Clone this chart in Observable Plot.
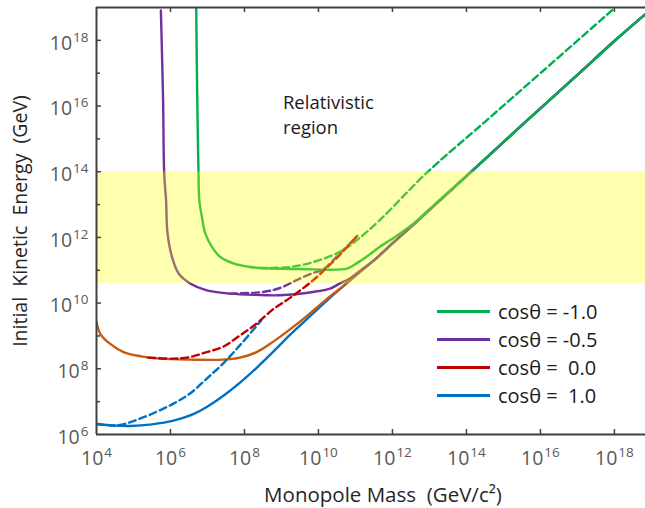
<!DOCTYPE html>
<html><head><meta charset="utf-8">
<script src="https://cdn.jsdelivr.net/npm/d3@7"></script>
<script src="https://cdn.jsdelivr.net/npm/@observablehq/plot@0.6"></script>
<style>
html,body{margin:0;padding:0;background:#fff;}
#wrap{position:relative;width:645px;height:508px;overflow:hidden;}
#legend{position:absolute;left:437px;top:297px;font-family:"Open Sans",sans-serif;font-size:20px;color:#1a1a1a;}
#legend .row{display:flex;align-items:center;height:28px;white-space:pre;}
#legend .sw{width:53px;height:3px;margin-right:8px;}
</style></head><body><div id="wrap"></div>
<script>
// ---------- data (log10 values) ----------
const seriesLabels = ["cosθ = -1.0", "cosθ = -0.5", "cosθ =  0.0", "cosθ =  1.0"];
const seriesColors = ["#00b050", "#7030a0", "#c00000", "#0070c0"];
const orangeColor = "#c55a11";

const xTickExps = [4, 6, 8, 10, 12, 14, 16, 18];
const yTickExps = [6, 8, 10, 12, 14, 16, 18];
const yMinorExps = [7, 9, 11, 13, 15, 17];
const xDomainExps = [4, 18.84];
const yDomainExps = [6, 19];
const bandExps = [10.6, 14];

const xTitle = "Monopole Mass  (GeV/c²)";
const yTitle = "Initial  Kinetic  Energy  (GeV)";
const annotLines = ["Relativistic", "region"];
const annotMassExp = 9.04;
const annotEnergyExps = [16.10, 15.34];

// common high-mass tail
const tailMass   = [11.5, 12.0, 12.6, 13.0, 14.08, 15.0, 16.0, 17.0, 18.0, 18.84];
const tailEnergy = [11.3, 11.82, 12.42, 12.84, 13.95, 14.9, 15.93, 16.95, 17.98, 18.8];

// cos = 1.0 solid (blue)
const blueSolidMass   = [4.0, 4.5, 4.92, 5.5, 6.08, 6.53, 6.98, 7.43, 7.88, 8.33, 8.78, 9.23, 9.6, 10.0, 10.31, 10.76, 11.2];
const blueSolidEnergy = [6.31, 6.27, 6.26, 6.31, 6.42, 6.58, 6.84, 7.18, 7.58, 8.03, 8.52, 9.03, 9.42, 9.84, 10.16, 10.6, 11.02];
// cos = 1.0 dashed (blue)
const blueDashMass   = [4.0, 4.57, 5.19, 6.08, 6.53, 6.98, 7.42, 7.88, 8.45];
const blueDashEnergy = [6.33, 6.28, 6.49, 6.94, 7.25, 7.70, 8.16, 8.72, 9.47];
// cos = 0.0 solid (orange)
const orangeSolidMass   = [4.0, 4.11, 4.38, 4.73, 5.2, 5.7, 6.53, 7.42, 7.88, 8.33, 8.77, 9.23, 9.7, 10.2, 10.76, 11.2];
const orangeSolidEnergy = [9.42, 9.05, 8.75, 8.51, 8.38, 8.31, 8.28, 8.28, 8.34, 8.51, 8.82, 9.2, 9.62, 10.1, 10.6, 11.03];
// cos = 0.0 dashed (red)
const redDashMass   = [5.40, 6.08, 6.53, 6.98, 7.42, 7.88, 8.33, 8.77, 9.23, 9.86, 10.5, 11.05];
const redDashEnergy = [8.34, 8.31, 8.36, 8.51, 8.67, 9.02, 9.38, 9.81, 10.16, 10.70, 11.38, 12.05];
// cos = -0.5 solid (purple)
const purpleSolidMass   = [5.74, 5.80, 5.83, 5.88, 5.92, 6.04, 6.22, 6.53, 6.98, 7.61, 8.3, 8.96, 9.85, 10.31, 10.58, 10.85, 11.2];
const purpleSolidEnergy = [18.91, 16.18, 13.95, 13.13, 12.12, 11.41, 10.90, 10.60, 10.39, 10.29, 10.25, 10.24, 10.34, 10.44, 10.6, 10.75, 11.05];
// cos = -0.5 dashed (purple)
const purpleDashMass   = [7.61, 8.5, 8.96, 9.41, 9.86, 10.1, 10.5, 11.05];
const purpleDashEnergy = [10.29, 10.34, 10.46, 10.7, 10.92, 11.0, 11.42, 12.05];
// cos = -1.0 solid (green)
const greenSolidMass   = [6.695, 6.72, 6.757, 6.78, 6.85, 6.94, 7.12, 7.34, 7.70, 8.15, 8.42, 9.5, 10.77, 11.03, 11.30, 11.65, 12.0, 12.6, 13.0];
const greenSolidEnergy = [19.0, 16.5, 13.95, 13.13, 12.62, 12.12, 11.71, 11.41, 11.21, 11.1, 11.07, 11.04, 11.05, 11.21, 11.41, 11.71, 11.96, 12.45, 12.86];
// cos = -1.0 dashed (green)
const greenDashMass   = [8.42, 9.23, 9.86, 10.58, 11.03, 11.65, 12.91, 14.5, 16.0, 17.94];
const greenDashEnergy = [11.07, 11.1, 11.25, 11.56, 11.91, 12.52, 13.95, 15.52, 17.0, 18.92];

// ---------- build tables ----------
const pow = v => Math.pow(10, v);
function table(mArr, eArr) { return mArr.map((m, i) => ({m: pow(m), e: pow(eArr[i])})); }
function withTail(mArr, eArr) {
  const last = mArr[mArr.length - 1];
  const tm = [], te = [];
  tailMass.forEach((m, i) => { if (m > last + 0.05) { tm.push(m); te.push(tailEnergy[i]); } });
  return table(mArr.concat(tm), eArr.concat(te));
}

const lines = [
  {d: withTail(blueSolidMass, blueSolidEnergy), c: seriesColors[3], dash: null},
  {d: withTail(orangeSolidMass, orangeSolidEnergy), c: orangeColor, dash: null},
  {d: withTail(purpleSolidMass, purpleSolidEnergy), c: seriesColors[1], dash: null},
  {d: withTail(greenSolidMass, greenSolidEnergy), c: seriesColors[0], dash: null},
  {d: table(blueDashMass, blueDashEnergy), c: seriesColors[3], dash: "7,4"},
  {d: table(purpleDashMass, purpleDashEnergy), c: seriesColors[1], dash: "7,4"},
  {d: table(greenDashMass, greenDashEnergy), c: seriesColors[0], dash: "7,4"},
  {d: table(redDashMass, redDashEnergy), c: seriesColors[2], dash: "7,4"}
];

const xTicks = xTickExps.map(pow);
const yTicks = yTickExps.map(pow);
const yMinor = yMinorExps.map(pow);
const xDom = xDomainExps.map(pow);
const yDom = yDomainExps.map(pow);
const band = [{x1: xDom[0], x2: xDom[1], y1: pow(bandExps[0]), y2: pow(bandExps[1])}];
const annot = annotLines.map((t, i) => ({m: pow(annotMassExp), e: pow(annotEnergyExps[i]), t}));

const W = 645, H = 508, ML = 96, MT = 7, MB = 74, MR = 0;
const FW = W - ML - MR, FH = H - MT - MB;
const axisColor = "#404040";
const labColor = "#595959";
const fmt = d => "10^" + Math.round(Math.log10(d));

const marks = [];
lines.forEach(l => marks.push(Plot.line(l.d, {x: "m", y: "e", stroke: l.c, strokeWidth: 2.4,
  strokeDasharray: l.dash, curve: "catmull-rom", clip: true})));
marks.push(Plot.rect(band, {x1: "x1", x2: "x2", y1: "y1", y2: "y2", fill: "#ffff00", fillOpacity: 0.31}));
// frame
marks.push(Plot.ruleY([yDom[0], yDom[1]], {stroke: axisColor, strokeWidth: 2}));
marks.push(Plot.ruleX([xDom[0]], {stroke: axisColor, strokeWidth: 2}));
// inward ticks
const xt = xTicks.slice(1);
marks.push(Plot.tickX(xt, {x: d => d, insetTop: FH - 5, stroke: axisColor, strokeWidth: 1.5}));
marks.push(Plot.tickX(xt, {x: d => d, insetBottom: FH - 5, stroke: axisColor, strokeWidth: 1.5}));
marks.push(Plot.tickY(yTicks.slice(1), {y: d => d, insetRight: FW - 5, stroke: axisColor, strokeWidth: 1.5}));
marks.push(Plot.tickY(yMinor, {y: d => d, insetRight: FW - 4, stroke: axisColor, strokeWidth: 1.5}));
// tick labels
marks.push(Plot.text(xTicks, {x: d => d, frameAnchor: "bottom", dy: 24, lineAnchor: "middle", textAnchor: "middle",
  text: fmt, fontSize: 19.5, fill: labColor}));
marks.push(Plot.text(yTicks, {y: d => d, frameAnchor: "left", dx: -8, dy: 3, lineAnchor: "middle", textAnchor: "end",
  text: fmt, fontSize: 19.5, fill: labColor}));
// titles
marks.push(Plot.text([xTitle], {frameAnchor: "bottom", dy: 61, dx: 12, lineAnchor: "middle", textAnchor: "middle",
  text: d => d, fontSize: 20.5, fill: "#262626"}));
marks.push(Plot.text([yTitle], {frameAnchor: "left", dx: -76, rotate: -90, lineAnchor: "middle", textAnchor: "middle",
  text: d => d, fontSize: 19.5, fill: "#262626"}));
// annotation (two lines)
marks.push(Plot.text(annot, {x: "m", y: "e", text: "t", textAnchor: "start", lineAnchor: "middle",
  fontSize: 18.5, fill: "#1a1a1a"}));

const chart = Plot.plot({
  width: W, height: H, marginLeft: ML, marginTop: MT, marginBottom: MB, marginRight: MR,
  x: {type: "log", domain: xDom, axis: null},
  y: {type: "log", domain: yDom, axis: null},
  style: {fontFamily: "'Open Sans', sans-serif", background: "white", overflow: "hidden"},
  marks
});

chart.querySelectorAll("text").forEach(t => {
  t.style.whiteSpace = "pre";
  const m = /^10\^(\d+)$/.exec(t.textContent);
  if (!m) return;
  t.textContent = "10";
  const ts = document.createElementNS("http://www.w3.org/2000/svg", "tspan");
  ts.setAttribute("dy", "-8");
  ts.setAttribute("dx", "1");
  ts.setAttribute("font-size", "13.5");
  ts.textContent = m[1];
  t.appendChild(ts);
});

const wrap = document.getElementById("wrap");
wrap.appendChild(chart);

// legend
const leg = document.createElement("div");
leg.id = "legend";
seriesLabels.forEach((lab, i) => {
  const row = document.createElement("div"); row.className = "row";
  const sw = document.createElement("div"); sw.className = "sw"; sw.style.background = seriesColors[i];
  const tx = document.createElement("span"); tx.textContent = lab;
  row.appendChild(sw); row.appendChild(tx); leg.appendChild(row);
});
wrap.appendChild(leg);
</script>
</body></html>
